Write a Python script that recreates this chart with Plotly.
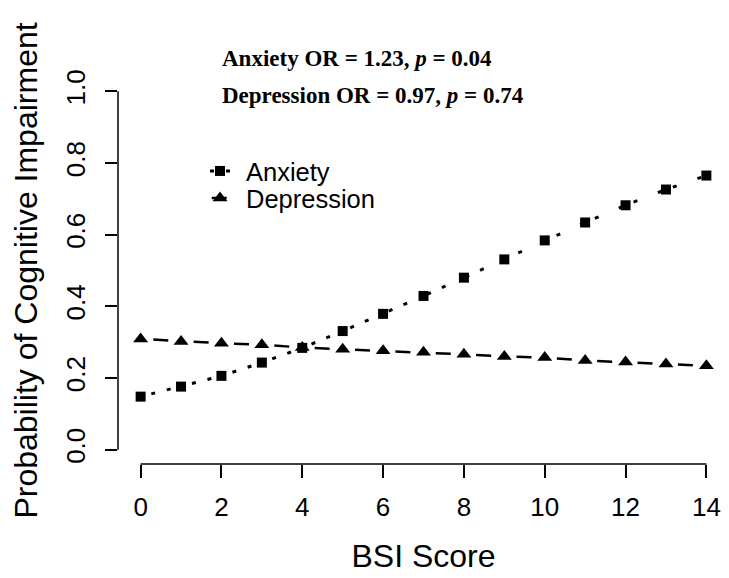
import plotly.graph_objects as go

bsi_score = list(range(0, 15))
anxiety = [0.148, 0.176, 0.206, 0.243, 0.284, 0.331, 0.379, 0.429, 0.480,
           0.531, 0.584, 0.634, 0.682, 0.726, 0.765]
depression = [0.309, 0.302, 0.297, 0.293, 0.285, 0.280, 0.276, 0.272, 0.266,
              0.260, 0.257, 0.249, 0.245, 0.239, 0.234]
x_ticks = [0, 2, 4, 6, 8, 10, 12, 14]
y_ticks = [0.0, 0.2, 0.4, 0.6, 0.8, 1.0]
y_tick_labels = ["0.0", "0.2", "0.4", "0.6", "0.8", "1.0"]
annotation_lines = ["<b>Anxiety OR = 1.23, <i>p</i> = 0.04</b>",
                    "<b>Depression OR = 0.97, <i>p</i> = 0.74</b>"]

SANS = "Liberation Sans, Arial, sans-serif"
SERIF = "Liberation Serif, Times New Roman, serif"

# plot-area geometry (figure pixels)
L, R, T, B = 110, 8, 68.5, 122
W, H = 729, 578
PW, PH = W - L - R, H - T - B


def px_x(p):
    return (p - L) / PW


def px_y(p):
    return 1 - (p - T) / PH


fig = go.Figure()
fig.add_trace(go.Scatter(
    x=bsi_score, y=anxiety, name="Anxiety", mode="lines+markers",
    line=dict(color="black", width=3, dash="0px,11px,4px,12px,4px,11px"),
    marker=dict(symbol="square", size=10, color="black"),
    legend="legend",
))
fig.add_trace(go.Scatter(
    x=bsi_score, y=depression, name="Depression", mode="lines+markers",
    line=dict(color="black", width=2.5, dash="0px,12.7px,15px,12.7px"),
    marker=dict(symbol="triangle-up", size=13, color="black"),
    legend="legend2",
))

# R-style detached axis lines spanning first to last tick
fig.add_shape(type="line", xref="x", yref="paper", x0=x_ticks[0], x1=x_ticks[-1],
              y0=0, y1=0, line=dict(color="black", width=1.5))
fig.add_shape(type="line", xref="paper", yref="y", x0=0, x1=0,
              y0=y_ticks[0], y1=y_ticks[-1], line=dict(color="black", width=1.5))

for text, ypix in zip(annotation_lines, [50, 87]):
    fig.add_annotation(text=text, xref="paper", yref="paper",
                       x=px_x(212), y=px_y(ypix),
                       xanchor="left", yanchor="middle", showarrow=False,
                       font=dict(family=SERIF, size=23, color="black"))

legend_common = dict(xanchor="left", yanchor="middle",
                     bgcolor="rgba(0,0,0,0)", borderwidth=0,
                     font=dict(family=SANS, size=25.5, color="black"),
                     tracegroupgap=0, itemwidth=42)

fig.update_layout(
    width=W, height=H,
    margin=dict(l=L, r=R, t=T, b=B),
    paper_bgcolor="white", plot_bgcolor="white",
    font=dict(family=SANS, color="black"),
    showlegend=True,
    legend=dict(x=px_x(186), y=px_y(163), **legend_common),
    legend2=dict(x=px_x(186), y=px_y(190), **legend_common),
    xaxis=dict(range=[-0.56, 14.56], tickvals=x_ticks, showgrid=False,
               zeroline=False, showline=False, ticks="outside", ticklen=13,
               tickwidth=1.5, tickcolor="black", ticklabelstandoff=7,
               tickfont=dict(family=SANS, size=26, color="black"),
               title=dict(text="BSI Score", standoff=23,
                          font=dict(family=SANS, size=32, color="black"))),
    yaxis=dict(range=[-0.04, 1.04], tickvals=y_ticks, ticktext=y_tick_labels,
               showgrid=False, zeroline=False, showline=False, ticks="outside",
               ticklen=12, tickwidth=1.5, tickcolor="black", tickangle=-90,
               ticklabelstandoff=10,
               tickfont=dict(family=SANS, size=26, color="black"),
               title=dict(text="Probability of Cognitive Impairment", standoff=16,
                          font=dict(family=SANS, size=32, color="black"))),
)

fig.write_html("out.html")
